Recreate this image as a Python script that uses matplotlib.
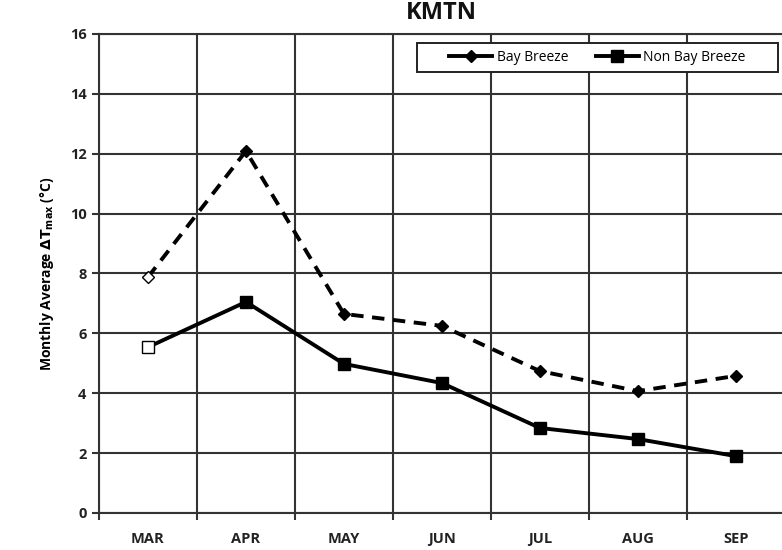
import matplotlib
matplotlib.use("Agg")
import matplotlib.pyplot as plt
from matplotlib import font_manager
from matplotlib.patches import Rectangle

months = ["MAR", "APR", "MAY", "JUN", "JUL", "AUG", "SEP"]
bay_breeze = [7.88, 12.09, 6.65, 6.25, 4.74, 4.07, 4.58]
non_bay_breeze = [5.54, 7.05, 4.98, 4.34, 2.84, 2.47, 1.90]
y_ticks = [0, 2, 4, 6, 8, 10, 12, 14, 16]

names = {f.name for f in font_manager.fontManager.ttflist}
family = ["Liberation Sans Narrow", "DejaVu Sans"] if "Liberation Sans Narrow" in names else ["Open Sans", "DejaVu Sans"]
plt.rcParams["font.family"] = family

fig = plt.figure(figsize=(7.82, 5.50), dpi=100)
ax = fig.add_axes([0.1266, 0.0673, 0.877, 0.8709])

x = list(range(len(months)))

# Bay breeze: dashed line with diamonds, first month hollow
ax.plot(x, bay_breeze, color="black", lw=2.8, ls=(0, (3.2, 2.2)), zorder=3)
ax.plot(x[1:], bay_breeze[1:], ls="none", marker="D", ms=6.5, color="black", zorder=4)
ax.plot(x[:1], bay_breeze[:1], ls="none", marker="D", ms=6.5, mfc="white", mec="black", mew=1.0, zorder=4)

# Non bay breeze: solid line with squares, first month hollow
ax.plot(x, non_bay_breeze, color="black", lw=2.8, zorder=3)
ax.plot(x[1:], non_bay_breeze[1:], ls="none", marker="s", ms=9, color="black", zorder=4)
ax.plot(x[:1], non_bay_breeze[:1], ls="none", marker="s", ms=9, mfc="white", mec="black", mew=1.0, zorder=4)

# legend box drawn as a patch, entries centred inside it
box = Rectangle((0.4636, 0.921), 0.5262, 0.060, transform=ax.transAxes, facecolor="white",
                edgecolor="#222222", lw=1.4, zorder=5)
ax.add_patch(box)
h1, = ax.plot([], [], color="black", lw=2.8, marker="D", ms=6.5, label="Bay Breeze")
h2, = ax.plot([], [], color="black", lw=2.8, marker="s", ms=9, label="Non Bay Breeze")
leg = ax.legend(handles=[h1, h2], loc="center", ncol=2, frameon=False,
                fontsize=10, handlelength=3.1, handletextpad=0.3,
                columnspacing=2.0, borderpad=0.2,
                bbox_to_anchor=(0.4636 + 0.5262 / 2, 0.951))
leg.set_zorder(6)

ax.set_xlim(-0.5, 6.5)
ax.set_ylim(0, 16)
ax.set_yticks(y_ticks)
ax.set_xticks([i - 0.5 for i in range(8)], minor=False)
ax.set_xticklabels([])
ax.set_xticks(x, minor=True)
ax.set_xticklabels(months, minor=True)
ax.tick_params(axis="x", which="minor", length=0, pad=14, labelsize=10.5)
ax.tick_params(axis="x", which="major", length=5, width=1.5, direction="out", color="#333333")
ax.tick_params(axis="y", length=5, width=1.5, direction="out", color="#333333", labelsize=10.5, pad=4)
for lab in ax.get_xticklabels(minor=True) + ax.get_yticklabels():
    lab.set_fontweight("bold")
    lab.set_color("#222222")

ax.grid(True, which="major", color="#333333", lw=1.5)
ax.set_axisbelow(True)
for s in ["top", "right", "left", "bottom"]:
    ax.spines[s].set_color("#333333")
    ax.spines[s].set_linewidth(1.5)

ax.set_ylabel(r"Monthly Average $\mathbf{\Delta T_{max}}$ (°C)", fontsize=10, fontweight="bold", labelpad=10)
fig.text(0.564, 0.976, "KMTN", ha="center", va="center", fontsize=17, fontweight="bold", color="#111111")

fig.savefig("out.png", dpi=100)
